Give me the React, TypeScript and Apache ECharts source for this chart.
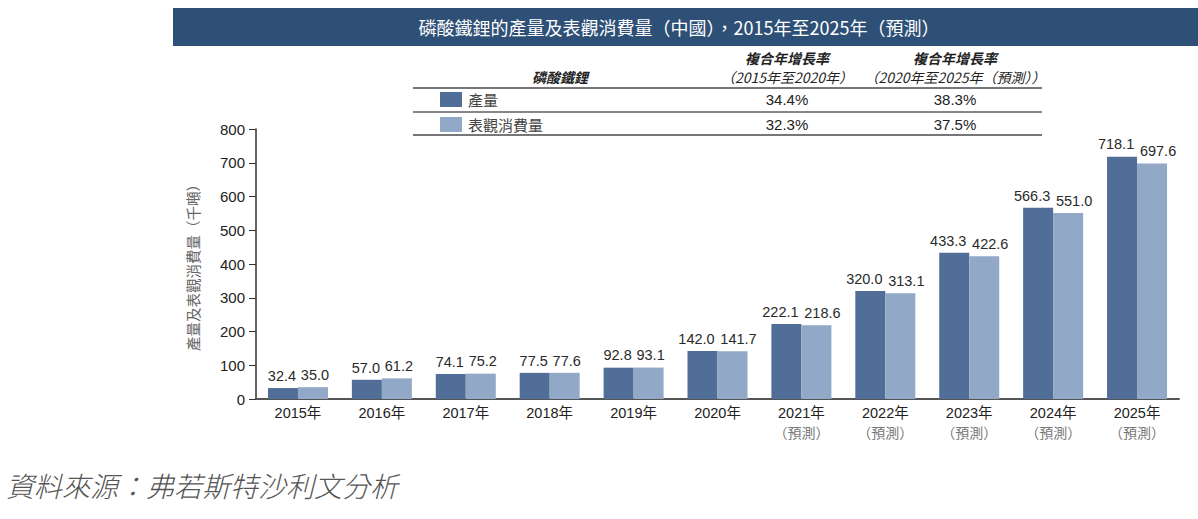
import React, { useEffect, useRef } from "react";
import * as echarts from "echarts";

const categories = ["2015年", "2016年", "2017年", "2018年", "2019年", "2020年", "2021年", "2022年", "2023年", "2024年", "2025年"];
const forecastFlags = [false, false, false, false, false, false, true, true, true, true, true];
const production = [32.4, 57.0, 74.1, 77.5, 92.8, 142.0, 222.1, 320.0, 433.3, 566.3, 718.1];
const consumption = [35.0, 61.2, 75.2, 77.6, 93.1, 141.7, 218.6, 313.1, 422.6, 551.0, 697.6];
const seriesNames = ["產量", "表觀消費量"];
const cagr1 = ["34.4%", "32.3%"];
const cagr2 = ["38.3%", "37.5%"];

const DARK = "#506E98";
const LIGHT = "#91A8C6";
const FONT = "'Liberation Sans', Arial, 'Noto Sans CJK TC', sans-serif";
const CJK = "'Noto Sans CJK TC', 'Liberation Sans', sans-serif";

export default function App() {
  const ref = useRef<HTMLDivElement>(null);
  useEffect(() => {
    document.body.style.margin = "0";
    const chart = echarts.init(ref.current!, null, { renderer: "svg" });
    const labelCommon = {
      show: true,
      position: "top" as const,
      distance: 5,
      fontSize: 14.5,
      color: "#2a2a2a",
      fontFamily: FONT,
      formatter: (p: any) => Number(p.value).toFixed(1),
    };
    const toItems = (arr: number[], side: number) =>
      arr.map((v) => ({
        value: v,
        label: { offset: [v >= 100 ? side * 6 : side < 0 ? -1 : 2, 0] },
      }));
    const rowY = [99, 124];
    const hdr = { fill: "#222", fontSize: 14, fontStyle: "italic", fontWeight: "bold", fontFamily: CJK, align: "center", verticalAlign: "middle" };
    const hdr2 = { ...hdr, fontWeight: "normal" };
    const graphics: any[] = [
      { type: "rect", shape: { x: 173, y: 8, width: 1025, height: 38 }, style: { fill: "#2E5077" } },
      {
        type: "text",
        x: 679,
        y: 27,
        style: {
          text: "磷酸鐵鋰的產量及表觀消費量（中國），2015年至2025年（預測）",
          fill: "#ffffff",
          fontSize: 18,
          fontFamily: CJK,
          align: "center",
          verticalAlign: "middle",
        },
      },
      { type: "text", x: 560, y: 77, style: { ...hdr, text: "磷酸鐵鋰" } },
      { type: "text", x: 787, y: 58, style: { ...hdr, text: "複合年增長率" } },
      { type: "text", x: 787, y: 77, style: { ...hdr2, text: "（2015年至2020年）" } },
      { type: "text", x: 955, y: 58, style: { ...hdr, text: "複合年增長率" } },
      { type: "text", x: 955, y: 77, style: { ...hdr2, text: "（2020年至2025年（預測））" } },
      { type: "line", shape: { x1: 413, y1: 88, x2: 1042, y2: 88 }, style: { stroke: "#777", lineWidth: 2 } },
      { type: "line", shape: { x1: 413, y1: 112, x2: 1042, y2: 112 }, style: { stroke: "#111", lineWidth: 1.2 } },
      { type: "line", shape: { x1: 413, y1: 135, x2: 1042, y2: 135 }, style: { stroke: "#777", lineWidth: 2 } },
      {
        type: "text",
        x: 6,
        y: 485,
        style: { text: "資料來源：弗若斯特沙利文分析", fill: "#555", fontSize: 28, fontStyle: "italic", fontWeight: 300, fontFamily: CJK, verticalAlign: "middle" },
      },
    ];
    [DARK, LIGHT].forEach((c, i) => {
      graphics.push({ type: "rect", shape: { x: 440, y: rowY[i] - 7, width: 22, height: 15 }, style: { fill: c } });
      graphics.push({ type: "text", x: 468, y: rowY[i], style: { text: seriesNames[i], fill: "#444", fontSize: 15, fontFamily: CJK, verticalAlign: "middle" } });
      graphics.push({ type: "text", x: 787, y: rowY[i], style: { text: cagr1[i], fill: "#222", fontSize: 15, fontFamily: FONT, align: "center", verticalAlign: "middle" } });
      graphics.push({ type: "text", x: 955, y: rowY[i], style: { text: cagr2[i], fill: "#222", fontSize: 15, fontFamily: FONT, align: "center", verticalAlign: "middle" } });
    });

    chart.setOption({
      animation: false,
      grid: { left: 256, right: 19, top: 129, bottom: 120, containLabel: false },
      xAxis: {
        type: "category",
        data: categories,
        axisLine: { lineStyle: { color: "#555", width: 2 } },
        axisTick: { show: false },
        axisLabel: {
          interval: 0,
          margin: 4,
          fontSize: 14.5,
          color: "#222",
          fontFamily: FONT,
          lineHeight: 19,
          formatter: (v: string, idx: number) => (forecastFlags[idx] ? `${v}\n{f|（預測）}` : v),
          rich: { f: { fontSize: 14, color: "#777", fontFamily: CJK, lineHeight: 19 } },
        },
      },
      yAxis: {
        type: "value",
        min: 0,
        max: 800,
        interval: 100,
        name: "產量及表觀消費量（千噸）",
        nameLocation: "middle",
        nameGap: 56,
        nameTextStyle: { fontSize: 14.5, color: "#666", fontFamily: CJK },
        axisLine: { show: true, lineStyle: { color: "#333", width: 1.5 } },
        axisTick: { show: true, length: 7, lineStyle: { color: "#333" } },
        axisLabel: { fontSize: 15, color: "#222", fontFamily: FONT, margin: 11 },
        splitLine: { show: false },
      },
      series: [
        { name: seriesNames[0], type: "bar", data: toItems(production, -1), barWidth: 30, barGap: "0%", itemStyle: { color: DARK }, label: labelCommon },
        { name: seriesNames[1], type: "bar", data: toItems(consumption, 1), barWidth: 30, barGap: "0%", itemStyle: { color: LIGHT }, label: labelCommon },
      ],
      graphic: graphics,
    });
    return () => chart.dispose();
  }, []);
  return <div ref={ref} style={{ position: "absolute", left: 0, top: 0, width: 1198, height: 519 }} />;
}
